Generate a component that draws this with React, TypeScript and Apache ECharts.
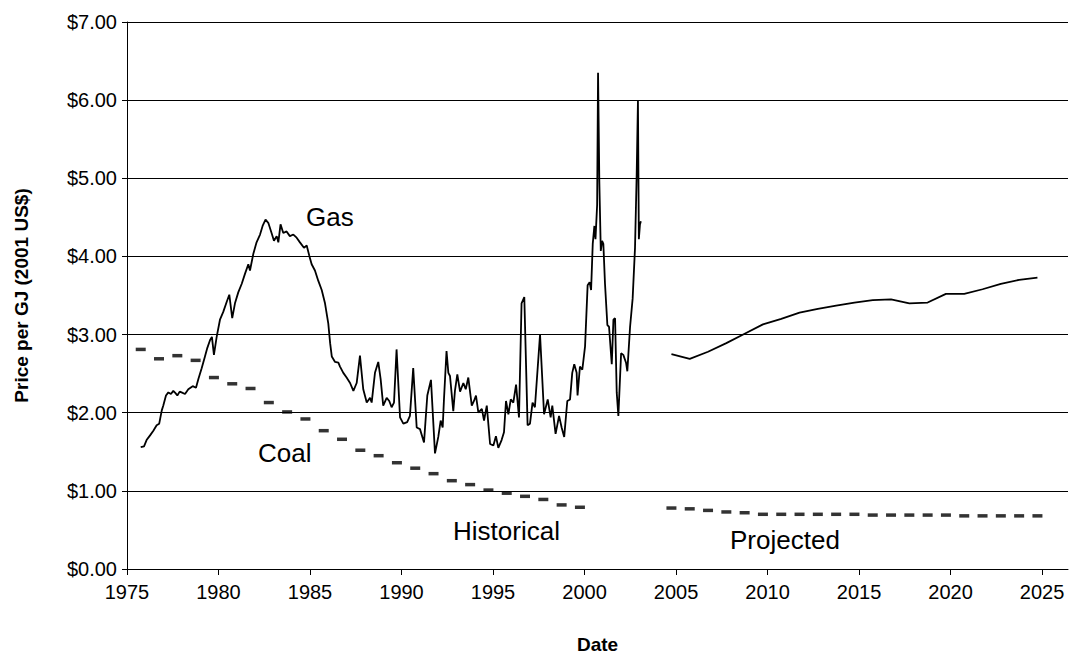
import React, { useEffect, useRef } from "react";
import * as echarts from "echarts";

const FONT = "'Liberation Sans', Arial, sans-serif";

const xTickYears = [1975, 1980, 1985, 1990, 1995, 2000, 2005, 2010, 2015, 2020, 2025];

// Historical gas price [year, $/GJ]
const gasHistorical: [number, number][] = [
  [1975.75, 1.56], [1975.93, 1.57], [1976.07, 1.65], [1976.26, 1.71], [1976.44, 1.77],
  [1976.62, 1.84], [1976.76, 1.86], [1976.9, 2.03], [1976.98, 2.09], [1977.13, 2.22],
  [1977.26, 2.26], [1977.4, 2.24], [1977.53, 2.28], [1977.65, 2.25], [1977.75, 2.22],
  [1977.88, 2.27], [1977.98, 2.26], [1978.17, 2.24], [1978.35, 2.3], [1978.59, 2.34],
  [1978.77, 2.32], [1978.9, 2.43], [1979.08, 2.57], [1979.26, 2.72], [1979.39, 2.83],
  [1979.54, 2.93], [1979.64, 2.97], [1979.75, 2.74], [1979.9, 2.97], [1980.08, 3.19],
  [1980.26, 3.29], [1980.45, 3.42], [1980.59, 3.51], [1980.75, 3.21], [1980.9, 3.4],
  [1981.08, 3.54], [1981.27, 3.65], [1981.45, 3.78], [1981.63, 3.9], [1981.72, 3.82],
  [1981.9, 4.03], [1982.08, 4.18], [1982.27, 4.28], [1982.41, 4.39], [1982.57, 4.47],
  [1982.72, 4.43], [1982.9, 4.3], [1983.03, 4.2], [1983.18, 4.26], [1983.27, 4.18],
  [1983.39, 4.41], [1983.54, 4.3], [1983.72, 4.32], [1983.9, 4.26], [1984.09, 4.28],
  [1984.27, 4.24], [1984.45, 4.18], [1984.67, 4.11], [1984.82, 4.14], [1984.96, 4.01],
  [1985.09, 3.9], [1985.27, 3.82], [1985.45, 3.69], [1985.64, 3.57], [1985.82, 3.4],
  [1986.0, 3.14], [1986.1, 2.89], [1986.19, 2.72], [1986.37, 2.65], [1986.55, 2.64],
  [1986.64, 2.59], [1986.82, 2.51], [1987.0, 2.45], [1987.19, 2.38], [1987.37, 2.28],
  [1987.55, 2.38], [1987.73, 2.73], [1987.91, 2.3], [1988.1, 2.13], [1988.28, 2.19],
  [1988.37, 2.13], [1988.55, 2.51], [1988.73, 2.65], [1988.86, 2.43], [1989.0, 2.09],
  [1989.19, 2.19], [1989.33, 2.15], [1989.46, 2.07], [1989.59, 2.13], [1989.73, 2.81],
  [1989.92, 1.94], [1990.1, 1.86], [1990.31, 1.88], [1990.46, 1.96], [1990.64, 2.57],
  [1990.83, 1.81], [1991.01, 1.79], [1991.23, 1.62], [1991.41, 2.22], [1991.61, 2.42],
  [1991.83, 1.48], [1992.01, 1.69], [1992.14, 1.9], [1992.25, 1.81], [1992.32, 2.17],
  [1992.46, 2.79], [1992.56, 2.51], [1992.65, 2.47], [1992.83, 2.02], [1992.92, 2.28],
  [1993.05, 2.49], [1993.2, 2.27], [1993.38, 2.38], [1993.51, 2.3], [1993.65, 2.45],
  [1993.84, 2.09], [1993.96, 2.15], [1994.07, 2.22], [1994.2, 2.0], [1994.39, 2.05],
  [1994.51, 1.9], [1994.66, 2.09], [1994.84, 1.6], [1995.02, 1.58], [1995.16, 1.7],
  [1995.29, 1.55], [1995.47, 1.65], [1995.6, 1.75], [1995.71, 2.15], [1995.84, 1.98],
  [1995.97, 2.17], [1996.11, 2.13], [1996.26, 2.36], [1996.42, 1.94], [1996.56, 3.4],
  [1996.71, 3.48], [1996.89, 1.84], [1997.02, 1.86], [1997.16, 2.13], [1997.29, 2.07],
  [1997.57, 3.0], [1997.79, 1.98], [1997.99, 2.17], [1998.15, 1.94], [1998.24, 2.09],
  [1998.42, 1.73], [1998.61, 1.96], [1998.75, 1.81], [1998.89, 1.69], [1999.06, 2.15],
  [1999.21, 2.17], [1999.33, 2.51], [1999.44, 2.62], [1999.57, 2.51], [1999.62, 2.22],
  [1999.75, 2.59], [1999.88, 2.55], [2000.03, 2.85], [2000.17, 3.63], [2000.28, 3.67],
  [2000.36, 3.57], [2000.45, 4.16], [2000.54, 4.39], [2000.6, 4.22], [2000.69, 4.66],
  [2000.74, 6.35], [2000.81, 4.96], [2000.89, 4.07], [2000.96, 4.2], [2001.03, 4.16],
  [2001.12, 3.65], [2001.25, 3.12], [2001.34, 3.1], [2001.49, 2.62], [2001.58, 3.19],
  [2001.67, 3.21], [2001.76, 2.26], [2001.85, 1.96], [2002.0, 2.76], [2002.12, 2.74],
  [2002.27, 2.64], [2002.34, 2.53], [2002.49, 3.1], [2002.63, 3.46], [2002.76, 4.11],
  [2002.85, 5.04], [2002.92, 5.99], [2002.97, 4.22], [2003.03, 4.41], [2003.08, 4.45],
];

// Projected series (one point per year)
const projYears = [
  2004.75, 2005.75, 2006.75, 2007.75, 2008.75, 2009.75, 2010.75, 2011.75, 2012.75, 2013.75,
  2014.75, 2015.75, 2016.75, 2017.75, 2018.75, 2019.75, 2020.75, 2021.75, 2022.75, 2023.75, 2024.75,
];
const gasProjected = [
  2.75, 2.69, 2.78, 2.89, 3.01, 3.13, 3.2, 3.28, 3.33, 3.37,
  3.41, 3.44, 3.45, 3.4, 3.41, 3.52, 3.52, 3.58, 3.65, 3.7, 3.73,
];
const coalProjected = [
  0.78, 0.77, 0.75, 0.73, 0.72, 0.7, 0.7, 0.7, 0.7, 0.7,
  0.7, 0.69, 0.69, 0.69, 0.69, 0.69, 0.68, 0.68, 0.68, 0.68, 0.68,
];

// Historical coal (one point per year)
const coalHistYears = [
  1975.75, 1976.75, 1977.75, 1978.75, 1979.75, 1980.75, 1981.75, 1982.75, 1983.75, 1984.75,
  1985.75, 1986.75, 1987.75, 1988.75, 1989.75, 1990.75, 1991.75, 1992.75, 1993.75, 1994.75,
  1995.75, 1996.75, 1997.75, 1998.75, 1999.75,
];
const coalHistorical = [
  2.81, 2.69, 2.73, 2.67, 2.45, 2.37, 2.31, 2.13, 2.01, 1.92,
  1.77, 1.66, 1.52, 1.45, 1.36, 1.29, 1.22, 1.13, 1.08, 1.01,
  0.97, 0.93, 0.89, 0.82, 0.79,
];

export default function App() {
  const ref = useRef<HTMLDivElement>(null);
  useEffect(() => {
    if (!ref.current) return;
    const chart = echarts.init(ref.current, undefined, { renderer: "svg" });
    const zip = (xs: number[], ys: number[]) => xs.map((x, i) => [x, ys[i]]);
    const dashStyle = {
      type: "scatter" as const,
      symbol: "rect",
      symbolSize: [10, 3.5],
      itemStyle: { color: "#000" },
      silent: true,
    };
    chart.setOption({
      animation: false,
      backgroundColor: "#fff",
      textStyle: { fontFamily: FONT },
      grid: { left: 127, right: 1, top: 22, bottom: 84, containLabel: false },
      xAxis: {
        type: "value",
        min: 1975,
        max: 2026.42,
        name: "Date",
        nameLocation: "middle",
        nameGap: 66,
        nameTextStyle: { fontFamily: FONT, fontSize: 19, fontWeight: "bold", color: "#000" },
        axisLine: { lineStyle: { color: "#000", width: 1 } },
        axisTick: { customValues: xTickYears, length: 6, lineStyle: { color: "#000" } },
        axisLabel: {
          customValues: xTickYears,
          formatter: (v: number) => (xTickYears.includes(Math.round(v)) && Math.abs(v - Math.round(v)) < 1e-6 ? String(Math.round(v)) : ""),
          fontFamily: FONT,
          fontSize: 20,
          color: "#000",
          margin: 13,
        },
        splitLine: { show: false },
      },
      yAxis: {
        type: "value",
        min: 0,
        max: 7,
        interval: 1,
        name: "Price per GJ (2001 US$)",
        nameLocation: "middle",
        nameGap: 96,
        nameRotate: 90,
        nameTextStyle: { fontFamily: FONT, fontSize: 19, fontWeight: "bold", color: "#000" },
        axisLine: { show: true, lineStyle: { color: "#000", width: 1 } },
        axisTick: { show: true, length: 5, lineStyle: { color: "#000" } },
        axisLabel: {
          formatter: (v: number) => "$" + v.toFixed(2),
          fontFamily: FONT,
          fontSize: 20,
          color: "#000",
          margin: 10,
        },
        splitLine: { show: true, lineStyle: { color: "#000", width: 1 } },
      },
      series: [
        {
          name: "Gas historical",
          type: "line",
          data: gasHistorical,
          showSymbol: false,
          symbol: "none",
          lineStyle: { color: "#000", width: 1.8 },
          silent: true,
        },
        {
          name: "Gas projected",
          type: "line",
          data: zip(projYears, gasProjected),
          showSymbol: false,
          symbol: "none",
          lineStyle: { color: "#000", width: 1.8 },
          silent: true,
        },
        { name: "Coal historical", data: zip(coalHistYears, coalHistorical), ...dashStyle },
        { name: "Coal projected", data: zip(projYears, coalProjected), ...dashStyle },
      ],
      graphic: [
        { type: "text", left: 306, top: 204, style: { text: "Gas", font: `26px ${FONT}`, fill: "#000" } },
        { type: "text", left: 258, top: 440, style: { text: "Coal", font: `26px ${FONT}`, fill: "#000" } },
        { type: "text", left: 453, top: 518, style: { text: "Historical", font: `26px ${FONT}`, fill: "#000" } },
        { type: "text", left: 730, top: 527, style: { text: "Projected", font: `26px ${FONT}`, fill: "#000" } },
      ],
    });
    return () => chart.dispose();
  }, []);
  return (
    <div
      ref={ref}
      style={{ position: "fixed", left: 0, top: 0, width: 1069, height: 659, background: "#fff" }}
    />
  );
}
